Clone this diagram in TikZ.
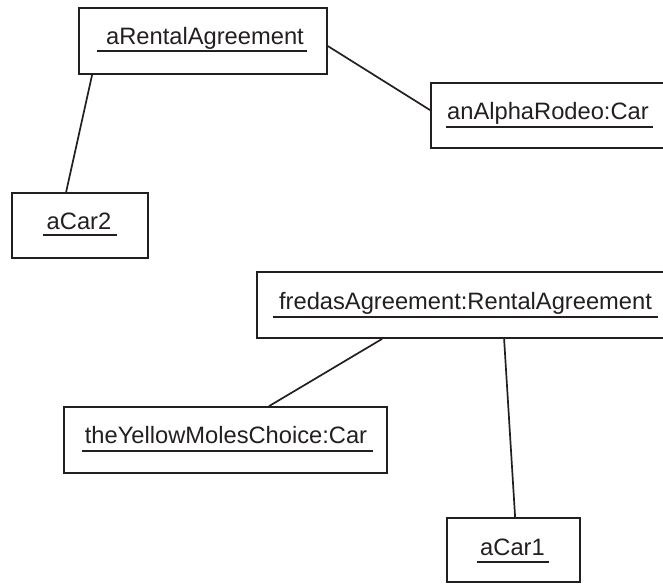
\documentclass[tikz,border=0pt]{standalone}
\usepackage{fontspec}
\setmainfont{Liberation Sans}
\definecolor{ink}{HTML}{231F20}
\begin{document}
\begin{tikzpicture}[x=1pt,y=-1pt,
  obj/.style={draw=ink, line width=1.8pt, rectangle, inner sep=0pt},
  lbl/.style={inner sep=0pt, anchor=base, text=ink, font=\fontsize{23.7}{28}\selectfont},
  uline/.style={draw=ink, line width=1.6pt},
  link/.style={draw=ink, line width=1.7pt}]
\clip (0,0) rectangle (663,584);
% boxes
\node[obj, minimum width=248pt, minimum height=66pt] (ra) at (203,41) {};
\node[obj, minimum width=249pt, minimum height=65pt] (alpha) at (555.5,115.5) {};
\node[obj, minimum width=136pt, minimum height=65pt] (car2) at (80,225.5) {};
\node[obj, minimum width=423pt, minimum height=66pt] (fredas) at (468.5,305) {};
\node[obj, minimum width=323pt, minimum height=66pt] (yellow) at (225.5,440) {};
\node[obj, minimum width=133pt, minimum height=64pt] (car1) at (513.5,550) {};
% labels
\node[lbl] (ratxt) at (205,44) {aRentalAgreement};
\node[lbl] (alphatxt) at (548,119) {anAlphaRodeo:Car};
\node[lbl] (car2txt) at (79,229.5) {aCar2};
\node[lbl] (fredastxt) at (465.5,309) {fredasAgreement:RentalAgreement};
\node[lbl] (yellowtxt) at (226,443) {theYellowMolesChoice:Car};
\node[lbl] (car1txt) at (512.5,555) {aCar1};
% underlines
\draw[uline] (97,51) -- (307,51);
\draw[uline] (446,127) -- (653,127);
\draw[uline] (43,235) -- (117,235);
\draw[uline] (273,317) -- (658,317);
\draw[uline] (82,451) -- (373,451);
\draw[uline] (477,562) -- (549,562);
% links
\draw[link] ([xshift=14pt]ra.south west) -- ([xshift=55pt]car2.north west);
\draw[link] ([yshift=-39pt]ra.north east) -- ([yshift=-28pt]alpha.north west);
\draw[link] ([xshift=126pt]fredas.south west) -- ([xshift=206pt]yellow.north west);
\draw[link] ([xshift=248pt]fredas.south west) -- ([xshift=69pt]car1.north west);
\end{tikzpicture}
\end{document}
